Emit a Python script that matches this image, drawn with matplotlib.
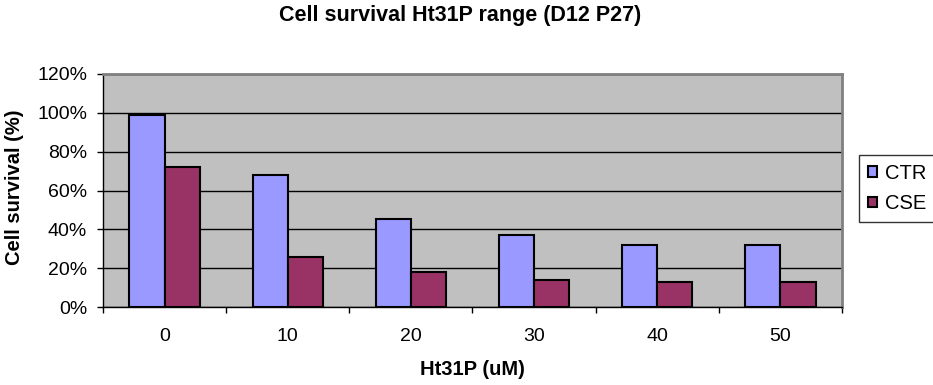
import numpy as np
import matplotlib
matplotlib.use("Agg")
from matplotlib import pyplot as plt
from matplotlib.ticker import FixedLocator, PercentFormatter

doses = ["0", "10", "20", "30", "40", "50"]
ctr = [99, 68, 45.5, 37, 32, 32]
cse = [72, 26, 18, 14, 13, 13]

plt.rcParams['font.family'] = ['Liberation Sans', 'DejaVu Sans']

fig = plt.figure(figsize=(9.33, 3.85), dpi=100)
ax = fig.add_axes([103 / 933, 1 - 307 / 385, 739 / 933, 233 / 385])
ax.set_facecolor('#C0C0C0')

x = np.arange(len(doses))
w = 1 / 3.5
ax.bar(x - w / 2, ctr, w, color='#9999FF', edgecolor='black', linewidth=1.5, label='CTR', zorder=3)
ax.bar(x + w / 2, cse, w, color='#993366', edgecolor='black', linewidth=1.5, label='CSE', zorder=3)

ax.set_xlim(-0.5, len(doses) - 0.5)
ax.set_ylim(0, 120)
ax.set_yticks(np.arange(0, 121, 20))
ax.yaxis.set_major_formatter(PercentFormatter(decimals=0))
ax.yaxis.grid(True, color='black', linewidth=1, zorder=0)
ax.set_axisbelow(True)

ax.set_xticks(x)
ax.set_xticklabels(doses)
ax.xaxis.set_minor_locator(FixedLocator(np.arange(-0.5, len(doses), 1)))
ax.tick_params(axis='x', which='major', length=0, pad=15, labelsize=14)
ax.tick_params(axis='x', which='minor', length=4.5, width=1, direction='out')
ax.tick_params(axis='y', length=4.5, width=1, direction='out', pad=7, labelsize=14)

for s in ['top', 'right']:
    ax.spines[s].set_color('#808080')
    ax.spines[s].set_linewidth(2)
for s in ['left', 'bottom']:
    ax.spines[s].set_color('black')
    ax.spines[s].set_linewidth(1)

fig.text(460 / 933, 1 - 21 / 385, 'Cell survival Ht31P range (D12 P27)', ha='center', va='baseline',
         fontsize=15.5, fontweight='bold')
fig.text(15 / 933, 1 - 187 / 385, 'Cell survival (%)', ha='center', va='center', rotation=90,
         fontsize=14.5, fontweight='bold')
fig.text(472 / 933, 1 - 375 / 385, 'Ht31P (uM)', ha='center', va='baseline',
         fontsize=14.5, fontweight='bold')

leg = fig.legend(loc='upper left', bbox_to_anchor=(859 / 933, 1 - 155 / 385), fontsize=14.5,
                 frameon=True, fancybox=False, edgecolor='black', handlelength=0.45, handleheight=0.45,
                 handletextpad=0.4, borderpad=0.45, borderaxespad=0, labelspacing=0.55)
leg.get_frame().set_linewidth(1)

fig.savefig('out.png', dpi=100)
